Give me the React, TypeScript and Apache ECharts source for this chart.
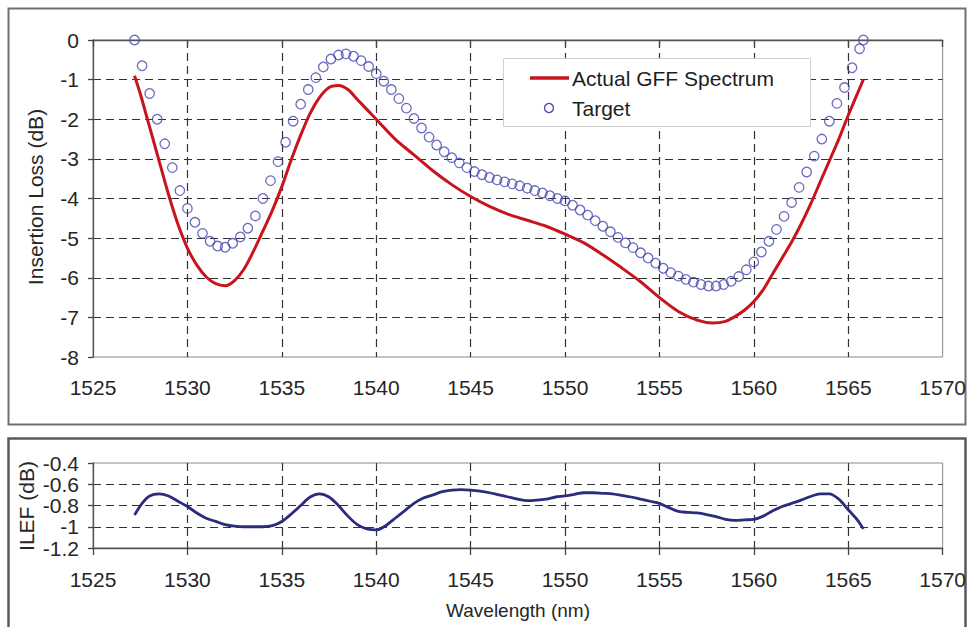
import React, { useEffect, useRef } from "react";
import * as echarts from "echarts";

// ---- Data ----
const xTicksLabel = ["1525", "1530", "1535", "1540", "1545", "1550", "1555", "1560", "1565", "1570"];

const actualX = [
  1527.2, 1527.5, 1528.0, 1528.5, 1529.0, 1529.5, 1530.0, 1530.5, 1531.0, 1531.5,
  1532.0, 1532.5, 1533.0, 1533.5, 1534.0, 1534.5, 1535.0, 1535.5, 1536.0, 1536.5,
  1537.0, 1537.5, 1538.0, 1538.5, 1539.0, 1539.5, 1540.0, 1541.0, 1542.0, 1543.0,
  1544.0, 1545.0, 1546.0, 1547.0, 1548.0, 1549.0, 1550.0, 1551.0, 1552.0, 1553.0,
  1554.0, 1555.0, 1556.0, 1557.0, 1557.8, 1558.5, 1559.0, 1559.5, 1560.0, 1560.5,
  1561.0, 1561.5, 1562.0, 1562.5, 1563.0, 1563.5, 1564.0, 1564.5, 1565.0, 1565.4,
  1565.8,
];
const actualY = [
  -0.9, -1.35, -2.2, -3.05, -3.9, -4.65, -5.25, -5.68, -5.98, -6.15,
  -6.2, -6.07, -5.78, -5.33, -4.82, -4.3, -3.7, -3.02, -2.4, -1.85,
  -1.45, -1.2, -1.15, -1.25, -1.5, -1.75, -2.0, -2.5, -2.9, -3.3,
  -3.65, -3.95, -4.2, -4.4, -4.55, -4.7, -4.9, -5.12, -5.42, -5.75,
  -6.1, -6.5, -6.85, -7.07, -7.14, -7.1, -6.98, -6.82, -6.6, -6.3,
  -5.9, -5.5, -5.1, -4.65, -4.15, -3.6, -3.05, -2.5, -1.9, -1.45,
  -1.0,
];

const targetX = [
  1527.2, 1527.6, 1528.0, 1528.4, 1528.8, 1529.2, 1529.6, 1530.0, 1530.4, 1530.8,
  1531.2, 1531.6, 1532.0, 1532.4, 1532.8, 1533.2, 1533.6, 1534.0, 1534.4, 1534.8,
  1535.2, 1535.6, 1536.0, 1536.4, 1536.8, 1537.2, 1537.6, 1538.0, 1538.4, 1538.8,
  1539.2, 1539.6, 1540.0, 1540.4, 1540.8, 1541.2, 1541.6, 1542.0, 1542.4, 1542.8,
  1543.2, 1543.6, 1544.0, 1544.4, 1544.8, 1545.2, 1545.6, 1546.0, 1546.4, 1546.8,
  1547.2, 1547.6, 1548.0, 1548.4, 1548.8, 1549.2, 1549.6, 1550.0, 1550.4, 1550.8,
  1551.2, 1551.6, 1552.0, 1552.4, 1552.8, 1553.2, 1553.6, 1554.0, 1554.4, 1554.8,
  1555.2, 1555.6, 1556.0, 1556.4, 1556.8, 1557.2, 1557.6, 1558.0, 1558.4, 1558.8,
  1559.2, 1559.6, 1560.0, 1560.4, 1560.8, 1561.2, 1561.6, 1562.0, 1562.4, 1562.8,
  1563.2, 1563.6, 1564.0, 1564.4, 1564.8, 1565.2, 1565.6, 1565.8,
];
const targetY = [
  0.0, -0.65, -1.35, -2.0, -2.62, -3.22, -3.8, -4.25, -4.6, -4.88,
  -5.08, -5.2, -5.23, -5.13, -4.97, -4.75, -4.44, -4.0, -3.55, -3.07,
  -2.58, -2.05, -1.62, -1.25, -0.95, -0.68, -0.48, -0.38, -0.35, -0.41,
  -0.52, -0.67, -0.85, -1.04, -1.25, -1.48, -1.72, -1.98, -2.22, -2.45,
  -2.65, -2.82, -2.97, -3.1, -3.22, -3.32, -3.4, -3.47, -3.53, -3.58,
  -3.63, -3.68, -3.74, -3.8, -3.86, -3.93, -4.0, -4.06, -4.17, -4.29,
  -4.42, -4.56, -4.7, -4.84, -4.98, -5.12, -5.24, -5.37, -5.5, -5.63,
  -5.76, -5.87, -5.96, -6.04, -6.11, -6.17, -6.21, -6.21, -6.17, -6.09,
  -5.97, -5.8, -5.6, -5.35, -5.08, -4.78, -4.45, -4.1, -3.72, -3.33,
  -2.93, -2.5, -2.05, -1.6, -1.2, -0.7, -0.22, 0.0,
];

const ilefX = [
  1527.2, 1527.6, 1528.0, 1528.5, 1529.0, 1529.5, 1530.0, 1530.5, 1531.0, 1531.5,
  1532.0, 1532.5, 1533.0, 1533.5, 1534.0, 1534.5, 1535.0, 1535.5, 1536.0, 1536.5,
  1537.0, 1537.5, 1538.0, 1538.5, 1539.0, 1539.5, 1540.0, 1540.5, 1541.0, 1541.5,
  1542.0, 1542.5, 1543.0, 1543.5, 1544.0, 1544.5, 1545.0, 1545.5, 1546.0, 1546.5,
  1547.0, 1547.5, 1548.0, 1548.5, 1549.0, 1549.5, 1550.0, 1550.5, 1551.0, 1551.5,
  1552.0, 1552.5, 1553.0, 1553.5, 1554.0, 1554.5, 1555.0, 1555.5, 1556.0, 1556.5,
  1557.0, 1557.5, 1558.0, 1558.5, 1559.0, 1559.5, 1560.0, 1560.5, 1561.0, 1561.5,
  1562.0, 1562.5, 1563.0, 1563.5, 1564.0, 1564.5, 1565.0, 1565.5, 1565.8,
];
const ilefY = [
  -0.89, -0.78, -0.71, -0.69, -0.71, -0.76, -0.81, -0.87, -0.92, -0.95,
  -0.98, -0.995, -1.0, -1.0, -1.0, -0.99, -0.95, -0.88, -0.8, -0.72,
  -0.69, -0.72, -0.8, -0.9, -0.98, -1.02, -1.03, -0.99, -0.92, -0.85,
  -0.78, -0.73, -0.7, -0.67, -0.655, -0.65, -0.655, -0.665, -0.68, -0.7,
  -0.72, -0.74, -0.755, -0.75, -0.74, -0.72, -0.71, -0.695, -0.68, -0.68,
  -0.685, -0.69, -0.705, -0.72, -0.74, -0.76, -0.78, -0.82, -0.855, -0.865,
  -0.87, -0.885, -0.905, -0.93, -0.94, -0.935, -0.93, -0.9, -0.85, -0.81,
  -0.78, -0.75, -0.715, -0.69, -0.69, -0.74, -0.84, -0.94, -1.02,
];

const legendNames = ["Actual GFF Spectrum", "Target"];
const topYTitle = "Insertion Loss (dB)";
const bottomYTitle = "ILEF (dB)";
const bottomXTitle = "Wavelength (nm)";

const FONT = "'Liberation Sans', Arial, sans-serif";
const TXT = "#262626";

const pairs = (xs: number[], ys: number[]) => xs.map((x, i) => [x, ys[i]]);

export default function App() {
  const ref = useRef<HTMLDivElement>(null);

  useEffect(() => {
    if (!ref.current) return;
    const chart = echarts.init(ref.current, undefined, { renderer: "svg" });

    const dashed = { color: "#333333", width: 1.2, type: [8, 5] as any };

    const xAxisCommon = (gridIndex: number, margin: number) => ({
      type: "value" as const,
      gridIndex,
      min: 1525,
      max: 1570,
      interval: 5,
      axisLine: { show: true, lineStyle: { color: "#555", width: 1.3 } },
      axisTick: { show: true, length: 7, lineStyle: { color: "#444", width: 1.3 } },
      axisLabel: {
        show: true,
        margin,
        fontSize: 21,
        color: TXT,
        fontFamily: FONT,
        formatter: (v: number) => {
          const idx = Math.round((v - 1525) / 5);
          return xTicksLabel[idx] ?? String(v);
        },
      },
      splitLine: { show: true, showMinLine: false, showMaxLine: false, lineStyle: dashed },
    });

    const option: any = {
      animation: false,
      backgroundColor: "#ffffff",
      grid: [
        { left: 93, top: 40, width: 850, height: 317, show: true, borderColor: "#8a8a8a", borderWidth: 1, backgroundColor: "transparent" },
        { left: 93, top: 463, width: 851, height: 85, show: true, borderColor: "#8a8a8a", borderWidth: 1, backgroundColor: "transparent" },
      ],
      xAxis: [xAxisCommon(0, 20), xAxisCommon(1, 21)],
      yAxis: [
        {
          type: "value",
          gridIndex: 0,
          min: -8,
          max: 0,
          interval: 1,
          axisLine: { show: true, lineStyle: { color: "#555", width: 1.3 } },
          axisTick: { show: true, length: 5, lineStyle: { color: "#444", width: 1.3 } },
          axisLabel: { margin: 14, fontSize: 21, color: TXT, fontFamily: FONT },
          splitLine: { show: true, showMinLine: false, showMaxLine: false, lineStyle: dashed },
        },
        {
          type: "value",
          gridIndex: 1,
          min: -1.2,
          max: -0.4,
          interval: 0.2,
          axisLine: { show: true, lineStyle: { color: "#555", width: 1.3 } },
          axisTick: { show: true, length: 5, lineStyle: { color: "#444", width: 1.3 } },
          axisLabel: {
            margin: 14,
            fontSize: 21,
            color: TXT,
            fontFamily: FONT,
            formatter: (v: number) => String(Math.round(v * 10) / 10),
          },
          splitLine: { show: true, showMinLine: false, showMaxLine: false, lineStyle: dashed },
        },
      ],
      series: [
        {
          name: legendNames[0],
          type: "line",
          xAxisIndex: 0,
          yAxisIndex: 0,
          data: pairs(actualX, actualY),
          showSymbol: false,
          symbol: "none",
          smooth: 0.3,
          lineStyle: { color: "#c8141c", width: 3 },
          z: 3,
        },
        {
          name: legendNames[1],
          type: "scatter",
          xAxisIndex: 0,
          yAxisIndex: 0,
          data: pairs(targetX, targetY),
          symbol: "circle",
          symbolSize: 9.5,
          itemStyle: { color: "rgba(0,0,0,0)", borderColor: "#4646b0", borderWidth: 1.3 },
          z: 4,
        },
        {
          name: "ILEF",
          type: "line",
          xAxisIndex: 1,
          yAxisIndex: 1,
          data: pairs(ilefX, ilefY),
          showSymbol: false,
          symbol: "none",
          smooth: 0.3,
          lineStyle: { color: "#2c2c7c", width: 2.8 },
          z: 3,
        },
      ],
      graphic: [
        // outer panel frames
        { type: "rect", z: -10, shape: { x: 8.5, y: 8.5, width: 957, height: 416 }, style: { fill: "none", stroke: "#707070", lineWidth: 2 } },
        { type: "rect", z: -10, shape: { x: 8.5, y: 438.5, width: 957, height: 200 }, style: { fill: "none", stroke: "#5a5a5a", lineWidth: 2.5 } },
        // legend
        { type: "rect", z: 20, shape: { x: 503.5, y: 58.5, width: 307, height: 68 }, style: { fill: "#ffffff", stroke: "#d0d0d0", lineWidth: 1 } },
        { type: "line", z: 21, shape: { x1: 530, y1: 78, x2: 569, y2: 78 }, style: { stroke: "#c8141c", lineWidth: 3.5 } },
        { type: "circle", z: 21, shape: { cx: 549, cy: 108, r: 4.5 }, style: { fill: "none", stroke: "#4646b0", lineWidth: 1.3 } },
        { type: "text", z: 21, x: 572, y: 78, style: { text: legendNames[0], font: `21px ${FONT}`, fill: "#1e1e1e", verticalAlign: "middle", align: "left" } },
        { type: "text", z: 21, x: 572, y: 108, style: { text: legendNames[1], font: `21px ${FONT}`, fill: "#1e1e1e", verticalAlign: "middle", align: "left" } },
        // axis titles
        { type: "text", x: 35, y: 197, rotation: Math.PI / 2, style: { text: topYTitle, font: `21px ${FONT}`, fill: TXT, align: "center", verticalAlign: "middle" } },
        { type: "text", x: 26, y: 506, rotation: Math.PI / 2, style: { text: bottomYTitle, font: `21px ${FONT}`, fill: TXT, align: "center", verticalAlign: "middle" } },
        { type: "text", x: 518, y: 610, style: { text: bottomXTitle, font: `19px ${FONT}`, fill: TXT, align: "center", verticalAlign: "middle" } },
      ],
    };

    chart.setOption(option);
    return () => chart.dispose();
  }, []);

  return (
    <div
      ref={ref}
      style={{ position: "fixed", left: 0, top: 0, width: 969, height: 627, background: "#fff" }}
    />
  );
}
